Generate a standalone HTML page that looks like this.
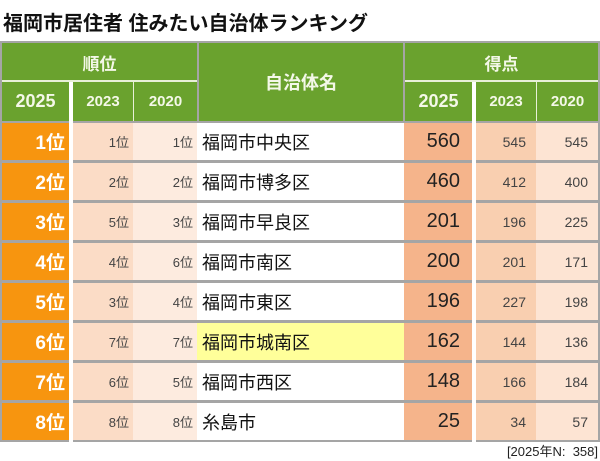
<!DOCTYPE html>
<html><head><meta charset="utf-8"><style>
*{margin:0;padding:0;box-sizing:border-box}
body{width:600px;height:461px;background:#fff;position:relative;overflow:hidden;font-family:"Liberation Sans","Noto Sans CJK JP",sans-serif}
.a{position:absolute;display:flex;align-items:center}
.hd{color:#f4f8e8;font-weight:bold;justify-content:center;background:#6aa22e}
</style></head><body>
<div class="a" style="left:3px;top:6px;height:30px;font-size:20px;font-weight:bold;color:#111">福岡市居住者 住みたい自治体ランキング</div>
<div style="position:absolute;left:0;top:41px;width:600px;height:401px;background:#a5a5a5"></div>
<div id="t"></div>
<div class="a" style="right:2px;top:440px;height:20px;font-size:13px;color:#222">[2025年N:&nbsp; 358]</div>
<script>
const rank2025=["1位","2位","3位","4位","5位","6位","7位","8位"];
const rank2023=["1位","2位","5位","4位","3位","7位","6位","8位"];
const rank2020=["1位","2位","3位","6位","4位","7位","5位","8位"];
const names=["福岡市中央区","福岡市博多区","福岡市早良区","福岡市南区","福岡市東区","福岡市城南区","福岡市西区","糸島市"];
const score2025=[560,460,201,200,196,162,148,25];
const score2023=[545,412,196,201,227,144,166,34];
const score2020=[545,400,225,171,198,136,184,57];
const highlight=5;
const t=document.getElementById('t');
function box(x,y,w,h,txt,css,name){const d=document.createElement('div');d.className='a';
d.style.cssText=`left:${x}px;top:${y}px;width:${w}px;height:${h}px;`+css;d.textContent=txt;


t.appendChild(d);return d;}
box(2,43,195,38,"順位","font-size:17px;","rank-header");
box(2,81,67,40,"2025","font-size:18px;","rank-2025-header");
box(73,81,60,40,"2023","font-size:15px;","rank-2023-header");
box(134,81,63,40,"2020","font-size:15px;","rank-2020-header");
box(199,43,204,78,"自治体名","font-size:18px;","name-header");
box(405,43,193,38,"得点","font-size:17px;","score-header");
box(405,81,67,40,"2025","font-size:18px;","score-2025-header");
box(476,81,60,40,"2023","font-size:15px;","score-2023-header");
box(537,81,61,40,"2020","font-size:15px;","score-2020-header");
t.querySelectorAll('.a').forEach(e=>e.classList.add('hd'));
box(69,80,4,362,"","background:#fff","rank-divider");
box(472,80,4,362,"","background:#fff","score-divider");
box(2,80,195,2,"","background:#e8f0d8","rank-header-line");
box(405,80,193,2,"","background:#e8f0d8","score-header-line");
box(133,81,1,40,"","background:#e8f0d8","rank-col-line");
box(536,81,1,40,"","background:#e8f0d8","score-col-line");
for(let i=0;i<names.length;i++){
 const y=123+i*40,h=37;
 box(2,y,67,h,rank2025[i],"background:#f7950f;color:#fff;font-weight:bold;font-size:19px;justify-content:flex-end;padding-right:4px","rank-2025-cell");
 box(73,y,60,h,rank2023[i],"background:#fbdcc6;color:#444;font-size:13px;justify-content:flex-end;padding-right:4px","rank-2023-cell");
 box(133,y,64,h,rank2020[i],"background:#fdebdf;color:#444;font-size:13px;justify-content:flex-end;padding-right:4px","rank-2020-cell");
 box(197,y,207,h,names[i],"background:"+(i===highlight?"#ffff9a":"#fff")+";color:#111;font-size:18px;padding-left:5px","municipality-name");
 box(404,y,68,h,String(score2025[i]),"background:#f5b48b;color:#222;font-size:20px;justify-content:flex-end;padding-right:12px","score-2025-cell");
 box(476,y,60,h,String(score2023[i]),"background:#f9cfb0;color:#444;font-size:14px;justify-content:flex-end;padding-right:10px","score-2023-cell");
 box(536,y,62,h,String(score2020[i]),"background:#fde4d3;color:#444;font-size:14px;justify-content:flex-end;padding-right:10px","score-2020-cell");
}
</script>
</body></html>
